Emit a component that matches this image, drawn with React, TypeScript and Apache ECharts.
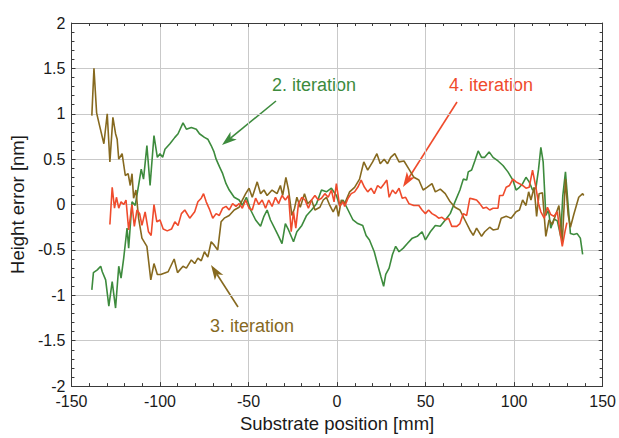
import React, { useEffect, useRef } from "react";
import * as echarts from "echarts";

const xTicks = { min: -150, max: 150, interval: 50 };
const yTicks = { min: -2, max: 2, interval: 0.5 };

const it2X = [-138.5,-137.6,-135.4,-133.5,-132.6,-130.7,-128.9,-127,-125.1,-123.3,-122,-120.5,-118.6,-117.7,-115.8,-114,-112.1,-110.6,-109.3,-107.4,-105.6,-103.4,-101.5,-100,-98.5,-97.2,-94.4,-91.6,-89.8,-87,-85.1,-82.3,-79.5,-77.7,-74.9,-73,-71.1,-69.5,-68.3,-66.5,-64.6,-62.7,-60.9,-58.1,-55.3,-53.5,-51.2,-48.8,-46,-43.2,-41.3,-39.5,-37.6,-34.8,-33,-31.1,-29.2,-27.4,-24.6,-22.7,-19.9,-17.2,-14.4,-11.6,-8.8,-6,-3.2,-0.4,1.5,3.4,6.2,9,11.7,14.5,16.4,18.3,21,22.9,24.7,26.3,27.5,29.4,31.3,33.1,35,37.4,39.7,42.5,45.3,48,49.9,52.7,55.5,58.3,61.1,63.9,66.6,69.4,71.3,73.2,74.1,76,77.8,79.7,81.6,83.4,85.9,88.1,90.9,93.7,96.5,99.3,101.1,103,104.8,106.7,108.5,110.4,112.3,113.8,115.1,116.4,117.9,119.4,120.7,122.5,124.4,126.3,127.5,129,130.5,131.8,133.7,135.6,137.4,138.7];
const it2Y = [-0.94,-0.75,-0.72,-0.68,-0.74,-0.83,-1.12,-0.85,-1.14,-0.68,-0.81,-0.59,-0.26,-0.48,0.03,-0.01,0.21,0.39,0.28,0.65,0.21,0.76,0.52,0.56,0.52,0.61,0.67,0.74,0.78,0.9,0.83,0.85,0.83,0.78,0.74,0.72,0.65,0.58,0.5,0.42,0.34,0.23,0.16,0.08,0.05,-0.01,0.08,-0.06,-0.17,-0.24,-0.13,-0.06,-0.17,-0.28,-0.35,-0.43,-0.21,-0.28,-0.41,-0.3,-0.23,-0.12,-0.06,0.01,0.16,0.14,0.18,0.1,-0.01,0.05,-0.06,-0.17,-0.21,-0.23,-0.34,-0.39,-0.52,-0.66,-0.79,-0.9,-0.77,-0.7,-0.55,-0.46,-0.52,-0.48,-0.43,-0.37,-0.35,-0.3,-0.39,-0.3,-0.23,-0.24,-0.17,-0.1,0.03,0.16,0.28,0.27,0.36,0.38,0.48,0.59,0.52,0.52,0.58,0.52,0.48,0.43,0.36,0.27,0.16,0.19,0.23,0.3,0.25,0.16,0.18,0.39,0.63,0.47,-0.12,-0.06,-0.26,-0.16,-0.18,-0.35,0.1,0.36,-0.01,-0.32,-0.33,-0.32,-0.37,-0.55];

const it3X = [-138.5,-137.3,-135.8,-134.5,-131.7,-129.8,-128.3,-126.6,-125.1,-124.2,-123.3,-121.4,-119.6,-118,-116.8,-115.8,-114.9,-113.6,-112.1,-110.2,-107.4,-105.2,-103.4,-101.5,-99.6,-95.4,-92,-90.1,-87,-85.1,-82.3,-80.4,-78.6,-76.7,-74.9,-73,-71.1,-69.3,-67.4,-65.5,-63.7,-60.9,-58.1,-55.3,-53.5,-51.6,-49.7,-47.9,-45.1,-43.2,-41.3,-39.5,-36.7,-33.9,-32,-30.7,-28.9,-27.4,-25.5,-24,-22.7,-20.8,-18.4,-16.6,-14.4,-12.5,-9.7,-7.8,-6,-4.1,-2.2,-0.4,0.8,2.4,4.3,7.1,9.9,12.7,15.1,17.3,20.1,22.5,24.4,26.6,28.5,30.3,32.6,35,37.8,40.6,43.4,46.2,48.6,50.8,53.6,55.5,58.3,61.1,63.9,66.6,69.4,72.2,75,76.9,78.8,81.6,83.4,86.2,88.1,90.9,92.7,95.5,98.3,101.1,103,104.8,106.7,108.2,109.5,111.3,112.7,114.1,116,117.9,119.7,121.6,123.5,125.3,127.2,129,130.5,131.8,133.7,136.5,138.7,139.3];
const it3Y = [0.98,1.5,1.01,0.9,0.67,1.0,0.47,0.96,0.78,0.72,0.5,0.56,0.32,0.34,0.21,0.34,0.07,0.16,-0.15,-0.37,-0.46,-0.83,-0.65,-0.77,-0.77,-0.74,-0.6,-0.75,-0.68,-0.7,-0.61,-0.65,-0.59,-0.62,-0.52,-0.58,-0.41,-0.45,-0.5,-0.19,-0.15,-0.12,-0.06,-0.03,0.05,0.12,0.18,0.08,0.25,0.12,0.16,0.1,0.16,0.12,0.21,0.1,0.3,0.16,-0.12,-0.04,0.08,-0.03,0.12,0.01,0.05,-0.06,-0.03,0.05,0.08,-0.01,-0.08,-0.01,-0.13,0.05,0.01,0.14,0.19,0.28,0.47,0.38,0.47,0.56,0.45,0.5,0.45,0.52,0.56,0.47,0.48,0.39,0.3,0.27,0.16,0.19,0.23,0.14,0.17,0.12,0.03,-0.03,-0.06,-0.17,-0.28,-0.34,-0.26,-0.35,-0.3,-0.25,-0.28,-0.27,-0.15,-0.13,-0.15,-0.08,-0.06,0.05,-0.01,0.14,0.05,0.19,-0.13,0.12,0.13,-0.35,-0.17,-0.22,-0.11,-0.01,-0.41,0.28,-0.11,-0.25,-0.11,0.08,0.12,0.1];

const it4X = [-128.3,-127,-125.7,-124.6,-123.3,-122,-120.5,-119.2,-117.7,-115.8,-114.5,-113,-111.5,-110.2,-108.4,-106.5,-105,-103.4,-101.8,-100,-98.2,-95.9,-93.5,-91.6,-89.8,-87.9,-86,-83.2,-80.4,-78.6,-76.7,-75.4,-73.9,-72.1,-70.2,-68.3,-66.5,-64.6,-62.7,-60.9,-59,-57.1,-55.3,-53.5,-51.6,-49.7,-47.9,-46,-44.2,-42.3,-40.4,-38.6,-36.7,-34.8,-33,-31.1,-29.2,-27.4,-25.9,-24.6,-23.3,-21.8,-19.9,-18.1,-16.2,-14.4,-12.5,-10.6,-8.8,-6.9,-5,-3.2,-1.7,-0.4,1.5,3.4,4.3,6.2,8,9.9,11.7,13.6,15.5,17.3,19.2,21,22.9,24.7,26.6,28.1,29.4,31.3,33.1,35,36.8,38.7,40.6,43.4,46.2,48,49.9,51.7,53.6,55.5,57.4,59.2,61.1,63,64.8,67.6,69.4,71.3,73.2,75,76.9,78.8,80.6,82.5,84.4,86.2,88.1,90.9,91.8,93.7,95.5,97.4,99.3,101.1,103,104.8,106.7,108.5,110.4,112.3,113.8,115.1,117,118.8,120.7,122.5,124.4,125.9,127.2,128.7,129.8];
const it4Y = [-0.22,0.19,-0.04,0.08,-0.04,0.03,0.0,0.05,-0.28,0.0,-0.24,-0.06,-0.1,-0.23,-0.08,-0.3,-0.34,0.0,-0.19,-0.17,-0.27,-0.29,-0.27,-0.19,-0.23,-0.1,-0.06,-0.15,-0.08,0.03,0.07,0.12,0.03,-0.05,-0.15,-0.1,-0.12,-0.04,-0.02,-0.06,0.01,-0.02,0.01,-0.04,0.05,-0.04,-0.06,0.07,0.0,0.05,-0.04,0.05,-0.02,0.08,0.01,0.1,0.05,0.1,-0.3,-0.08,-0.26,0.01,0.08,0.05,-0.04,0.05,0.1,0.05,0.07,0.12,0.08,0.16,0.03,0.23,-0.02,0.03,-0.02,0.07,0.12,0.14,0.19,0.27,0.19,0.14,0.18,0.12,0.21,0.18,0.23,0.27,0.08,0.16,0.12,0.18,0.07,0.08,0.01,-0.01,-0.01,-0.06,-0.1,-0.06,-0.1,-0.12,-0.15,-0.14,-0.17,-0.15,-0.24,-0.24,-0.21,-0.1,-0.12,0.07,0.06,0.05,0.01,-0.04,-0.03,-0.06,-0.04,-0.04,0.1,0.1,0.19,0.21,0.28,0.25,0.23,0.21,0.18,0.19,0.38,0.19,0.01,-0.08,-0.15,-0.03,-0.11,-0.13,-0.08,-0.3,-0.46,-0.3,-0.2];

const seriesNames = ["2. iteration", "3. iteration", "4. iteration"];
const seriesColors = ["#3d8b3d", "#86691f", "#ef4b2c"];

const FONT = "'Liberation Sans', Arial, Helvetica, sans-serif";

function zip(xs: number[], ys: number[]) {
  return xs.map((x, i) => [x, ys[i]]);
}

function arrow(x1: number, y1: number, x2: number, y2: number, color: string) {
  const dx = x2 - x1;
  const dy = y2 - y1;
  const len = Math.sqrt(dx * dx + dy * dy);
  const ux = dx / len;
  const uy = dy / len;
  const px = -uy;
  const py = ux;
  const hl = 15;
  const hw = 5;
  const notch = 11;
  const bx = x2 - ux * hl;
  const by = y2 - uy * hl;
  const nx = x2 - ux * notch;
  const ny = y2 - uy * notch;
  return [
    {
      type: "line",
      shape: { x1, y1, x2: nx, y2: ny },
      style: { stroke: color, lineWidth: 1.6 },
      silent: true,
    },
    {
      type: "polygon",
      shape: {
        points: [
          [x2, y2],
          [bx + px * hw, by + py * hw],
          [nx, ny],
          [bx - px * hw, by - py * hw],
        ],
      },
      style: { fill: color },
      silent: true,
    },
  ];
}

function label(text: string, x: number, y: number, color: string) {
  return {
    type: "text",
    x,
    y,
    style: {
      text,
      fill: color,
      font: `18px ${FONT}`,
      textVerticalAlign: "middle",
      verticalAlign: "middle",
    },
    silent: true,
  };
}

export default function App() {
  const ref = useRef<HTMLDivElement>(null);
  useEffect(() => {
    if (!ref.current) return;
    const chart = echarts.init(ref.current, undefined, { renderer: "svg" });
    const axisLineColor = "#3a3a3a";
    const baseX = {
      type: "value",
      min: xTicks.min,
      max: xTicks.max,
      interval: xTicks.interval,
      axisLine: { show: true, onZero: false, lineStyle: { color: axisLineColor, width: 1 } },
      axisTick: { show: true, inside: true, length: 4, lineStyle: { color: axisLineColor } },
      minorTick: { show: true, splitNumber: 5, length: 3, lineStyle: { color: axisLineColor } },
    };
    const baseY = {
      type: "value",
      min: yTicks.min,
      max: yTicks.max,
      interval: yTicks.interval,
      axisLine: { show: true, onZero: false, lineStyle: { color: axisLineColor, width: 1 } },
      axisTick: { show: true, inside: true, length: 4, lineStyle: { color: axisLineColor } },
      minorTick: { show: true, splitNumber: 5, length: 3, lineStyle: { color: axisLineColor } },
    };
    const datas = [zip(it2X, it2Y), zip(it3X, it3Y), zip(it4X, it4Y)];
    chart.setOption({
      animation: false,
      backgroundColor: "#ffffff",
      textStyle: { fontFamily: FONT },
      grid: { left: 71, right: 13, top: 23, bottom: 49, containLabel: false },
      xAxis: [
        {
          ...baseX,
          position: "bottom",
          name: "Substrate position [mm]",
          nameLocation: "middle",
          nameGap: 27,
          nameTextStyle: { fontSize: 18.5, color: "#1a1a1a", fontFamily: FONT },
          axisLabel: { show: true, fontSize: 16, color: "#1a1a1a", margin: 7, fontFamily: FONT },
          splitLine: { show: true, lineStyle: { color: "#c9c9c9", width: 1 } },
        },
        {
          ...baseX,
          position: "top",
          axisLabel: { show: false },
          splitLine: { show: false },
        },
      ],
      yAxis: [
        {
          ...baseY,
          position: "left",
          name: "Height error [nm]",
          nameLocation: "middle",
          nameRotate: 90,
          nameGap: 38,
          nameTextStyle: { fontSize: 18.5, color: "#1a1a1a", fontFamily: FONT },
          axisLabel: { show: true, fontSize: 16, color: "#1a1a1a", margin: 6, fontFamily: FONT },
          splitLine: { show: true, lineStyle: { color: "#c9c9c9", width: 1 } },
        },
        {
          ...baseY,
          position: "right",
          axisLabel: { show: false },
          splitLine: { show: false },
        },
      ],
      series: datas.map((d, i) => ({
        type: "line",
        name: seriesNames[i],
        data: d,
        xAxisIndex: 0,
        yAxisIndex: 0,
        showSymbol: false,
        symbol: "none",
        lineStyle: { color: seriesColors[i], width: 1.6 },
        itemStyle: { color: seriesColors[i] },
        z: 3 + i,
      })),
      graphic: [
        label(seriesNames[0], 272, 85, seriesColors[0]),
        ...arrow(276, 101, 222, 145, seriesColors[0]),
        label(seriesNames[2], 449, 85, seriesColors[2]),
        ...arrow(457, 102, 403, 187, seriesColors[2]),
        label(seriesNames[1], 210, 326, seriesColors[1]),
        ...arrow(238, 307, 211, 265, seriesColors[1]),
      ],
    });
    return () => chart.dispose();
  }, []);
  return <div ref={ref} style={{ width: 619, height: 438, position: "absolute", left: 0, top: 0 }} />;
}
